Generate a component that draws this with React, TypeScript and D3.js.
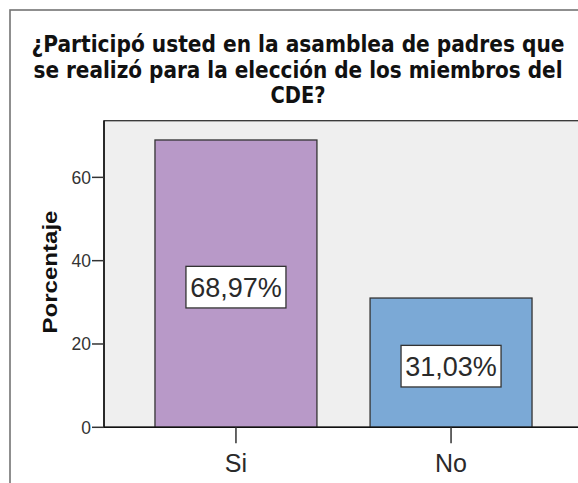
import React from "react";
import * as d3 from "d3";

const titleLines = [
  "¿Participó usted en la asamblea de padres que",
  "se realizó para la elección de los miembros del",
  "CDE?",
];
const categories = ["Si", "No"];
const percentages = [68.97, 31.03];
const valueLabels = ["68,97%", "31,03%"];
const barColors = ["#B899C8", "#7BA9D6"];
const yTicks = [0, 20, 40, 60];
const yAxisTitle = "Porcentaje";

const W = 578;
const H = 483;

export default function App() {
  const plotLeft = 104;
  const plotRight = 583;
  const plotTop = 120.7;
  const plotBottom = 427.3;

  const y = d3.scaleLinear().domain([0, 73.6]).range([plotBottom, plotTop]);
  const x = d3
    .scaleBand<string>()
    .domain(categories)
    .range([plotLeft, plotRight])
    .paddingInner(0.247)
    .paddingOuter(0.237);

  const titleWidths = [533, 529, null];
  const titleY = [52, 78, 103];

  return (
    <div style={{ position: "fixed", left: 0, top: 0 }}>
      <svg width={W} height={H} style={{ display: "block", background: "#fff" }}>
        {/* outer frame */}
        <rect x={10} y={10} width={W + 20} height={H + 20} fill="#fff" stroke="#747474" strokeWidth={1.6} />
        {/* title */}
        {titleLines.map((t, i) => (
          <g key={i} transform={`translate(298, ${titleY[i]}) scale(1, 1.15)`}>
            <text
              x={0}
              y={0}
              textAnchor="middle"
              fontFamily="DejaVu Sans"
              fontWeight="bold"
              fontSize={19.5}
              fill="#111"
              {...(titleWidths[i] ? { textLength: titleWidths[i] as number, lengthAdjust: "spacingAndGlyphs" } : {})}
            >
              {t}
            </text>
          </g>
        ))}
        {/* plot background */}
        <rect
          x={plotLeft}
          y={plotTop}
          width={plotRight - plotLeft + 20}
          height={plotBottom - plotTop}
          fill="#EFEFEF"
          stroke="#333"
          strokeWidth={1.3}
        />
        {/* bars */}
        {categories.map((c, i) => {
          const bx = x(c) as number;
          const by = y(percentages[i]);
          const bh = y(0) - by;
          const cx = bx + x.bandwidth() / 2;
          const cy = (by + y(0)) / 2 + 3.5;
          return (
            <g key={c}>
              <rect x={bx} y={by} width={x.bandwidth()} height={bh} fill={barColors[i]} stroke="#333" strokeWidth={1.3} />
              <rect x={cx - 50} y={cy - 20.8} width={100} height={41.6} fill="#fff" stroke="#333" strokeWidth={1.3} />
              <text
                x={cx}
                y={cy + 10}
                textAnchor="middle"
                fontFamily="Liberation Sans, Arial, sans-serif"
                fontSize={27}
                fill="#2a2a2a"
              >
                {valueLabels[i]}
              </text>
            </g>
          );
        })}
        {/* x axis line */}
        <line x1={plotLeft} x2={W + 10} y1={plotBottom} y2={plotBottom} stroke="#111" strokeWidth={1.5} />
        {/* x ticks & labels */}
        {categories.map((c) => {
          const cx = (x(c) as number) + x.bandwidth() / 2;
          return (
            <g key={c}>
              <line x1={cx} x2={cx} y1={plotBottom} y2={plotBottom + 16} stroke="#333" strokeWidth={1.5} />
              <text
                x={cx}
                y={472}
                textAnchor="middle"
                fontFamily="Liberation Sans, Arial, sans-serif"
                fontSize={25}
                fill="#2a2a2a"
              >
                {c}
              </text>
            </g>
          );
        })}
        {/* y axis */}
        <line x1={plotLeft} x2={plotLeft} y1={plotTop} y2={plotBottom} stroke="#111" strokeWidth={1.5} />
        {yTicks.map((t) => (
          <g key={t}>
            <line x1={plotLeft - 12} x2={plotLeft} y1={y(t)} y2={y(t)} stroke="#333" strokeWidth={1.5} />
            <text
              x={plotLeft - 13}
              y={y(t) + 6.5}
              textAnchor="end"
              fontFamily="Liberation Sans, Arial, sans-serif"
              fontSize={17.5}
              fill="#333"
            >
              {t}
            </text>
          </g>
        ))}
        <text
          transform={`translate(57, 272) rotate(-90)`}
          textAnchor="middle"
          fontFamily="Liberation Sans, Arial, sans-serif"
          fontWeight="bold"
          fontSize={21}
          fill="#111"
          textLength={123}
          lengthAdjust="spacingAndGlyphs"
        >
          {yAxisTitle}
        </text>
      </svg>
    </div>
  );
}
